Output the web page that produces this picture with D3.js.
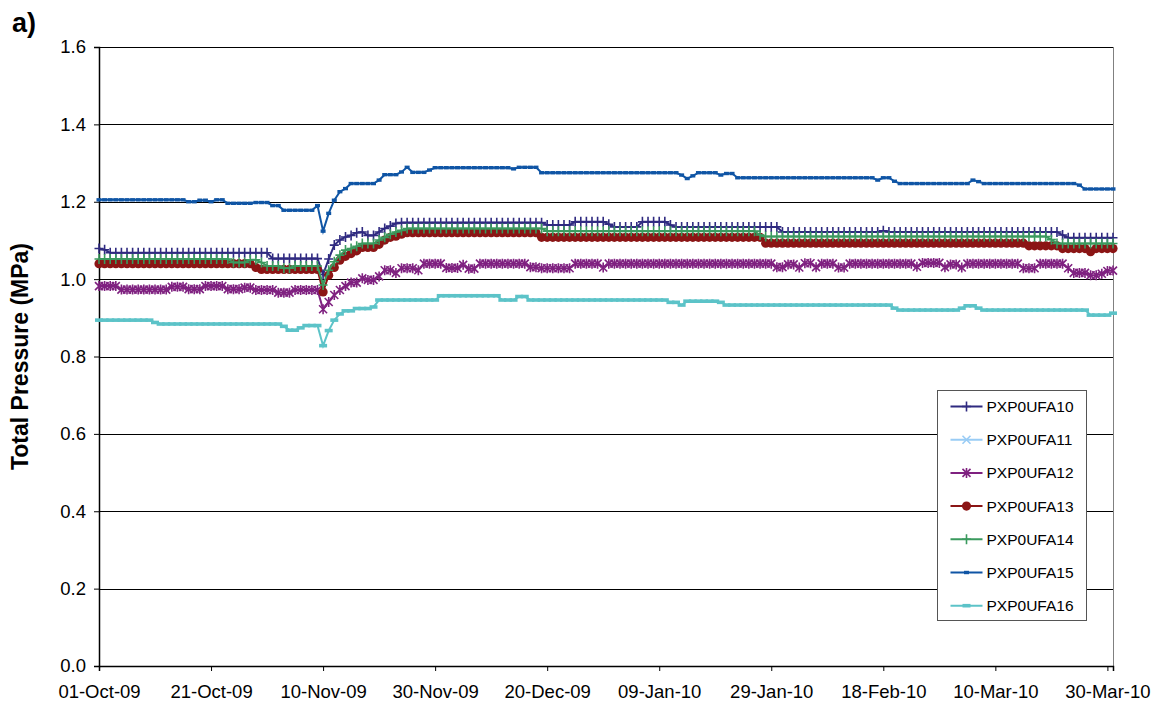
<!DOCTYPE html>
<html>
<head>
<meta charset="utf-8">
<script src="https://cdn.jsdelivr.net/npm/d3@7"></script>
<style>
  body { margin: 0; background: #fff; overflow: hidden; }
  svg { display: block; }
  text { font-family: Arial, "Liberation Sans", sans-serif; fill: #000; }
</style>
</head>
<body>
<svg width="1157" height="709"></svg>
<script>

// first reading day, one reading per day after that
const firstDay = '01-Oct-09';
const lastDay = '31-Mar-10';
const dateTicks = ['01-Oct-09', '21-Oct-09', '10-Nov-09', '30-Nov-09', '20-Dec-09',
                   '09-Jan-10', '29-Jan-10', '18-Feb-10', '10-Mar-10', '30-Mar-10'];
const pressureTicks = [0, 0.2, 0.4, 0.6, 0.8, 1.0, 1.2, 1.4, 1.6];
const seriesNames = ['PXP0UFA10', 'PXP0UFA11', 'PXP0UFA12', 'PXP0UFA13',
                     'PXP0UFA14', 'PXP0UFA15', 'PXP0UFA16'];

// daily total pressure, MPa
const ufa10 = [
  1.079,1.076,1.068,1.068,1.068,1.068,1.068,1.068,1.068,1.068,
  1.068,1.068,1.068,1.068,1.068,1.068,1.068,1.068,1.068,1.068,
  1.068,1.068,1.068,1.068,1.068,1.068,1.068,1.068,1.068,1.068,
  1.068,1.053,1.053,1.053,1.053,1.053,1.053,1.053,1.053,1.053,
  1.012,1.052,1.088,1.101,1.109,1.113,1.120,1.122,1.113,1.113,
  1.122,1.131,1.137,1.144,1.146,1.146,1.146,1.146,1.146,1.146,
  1.146,1.146,1.146,1.146,1.146,1.146,1.146,1.146,1.146,1.146,
  1.146,1.146,1.146,1.146,1.146,1.146,1.146,1.146,1.146,1.146,
  1.140,1.140,1.140,1.140,1.140,1.148,1.148,1.148,1.148,1.148,
  1.148,1.142,1.135,1.135,1.135,1.135,1.135,1.148,1.148,1.148,
  1.148,1.148,1.140,1.135,1.135,1.135,1.135,1.135,1.135,1.135,
  1.135,1.135,1.135,1.135,1.135,1.135,1.135,1.135,1.135,1.135,
  1.135,1.135,1.122,1.122,1.122,1.122,1.122,1.122,1.122,1.122,
  1.122,1.122,1.122,1.122,1.122,1.122,1.122,1.122,1.122,1.122,
  1.125,1.122,1.122,1.122,1.122,1.122,1.122,1.122,1.122,1.122,
  1.122,1.122,1.122,1.122,1.122,1.122,1.122,1.122,1.122,1.122,
  1.122,1.122,1.122,1.122,1.122,1.122,1.122,1.122,1.122,1.122,
  1.122,1.122,1.114,1.107,1.107,1.107,1.107,1.107,1.107,1.107,
  1.107,1.107
];
// no readings logged for UFA11 in this period
const ufa11 = [];
const ufa12 = [
  0.982,0.982,0.982,0.982,0.973,0.973,0.973,0.973,0.973,0.973,
  0.973,0.973,0.973,0.980,0.980,0.980,0.974,0.974,0.974,0.982,
  0.982,0.982,0.982,0.974,0.974,0.974,0.978,0.978,0.972,0.972,
  0.972,0.972,0.965,0.965,0.965,0.972,0.972,0.972,0.972,0.972,
  0.922,0.941,0.959,0.972,0.982,0.991,0.991,1.002,0.998,0.998,
  1.007,1.023,1.023,1.016,1.028,1.028,1.028,1.023,1.040,1.040,
  1.040,1.040,1.029,1.029,1.029,1.037,1.027,1.027,1.040,1.040,
  1.040,1.040,1.040,1.040,1.040,1.040,1.040,1.031,1.031,1.028,
  1.028,1.028,1.028,1.028,1.028,1.040,1.040,1.040,1.040,1.040,
  1.030,1.040,1.040,1.040,1.040,1.040,1.040,1.040,1.040,1.040,
  1.040,1.040,1.040,1.040,1.040,1.040,1.040,1.040,1.040,1.040,
  1.040,1.040,1.040,1.040,1.040,1.040,1.040,1.040,1.040,1.040,
  1.040,1.031,1.031,1.038,1.038,1.030,1.041,1.041,1.031,1.040,
  1.040,1.040,1.030,1.030,1.040,1.040,1.040,1.040,1.040,1.040,
  1.040,1.040,1.040,1.040,1.040,1.040,1.032,1.042,1.042,1.042,
  1.042,1.031,1.038,1.038,1.030,1.040,1.040,1.040,1.040,1.040,
  1.040,1.040,1.040,1.040,1.040,1.028,1.028,1.028,1.040,1.040,
  1.040,1.040,1.040,1.028,1.016,1.016,1.016,1.010,1.010,1.014,
  1.021,1.022
];
const ufa13 = [
  1.040,1.040,1.040,1.040,1.040,1.040,1.040,1.040,1.040,1.040,
  1.040,1.040,1.040,1.040,1.040,1.040,1.040,1.040,1.040,1.040,
  1.040,1.040,1.040,1.040,1.040,1.040,1.040,1.040,1.030,1.025,
  1.025,1.025,1.025,1.025,1.025,1.025,1.025,1.025,1.025,1.025,
  0.967,1.010,1.030,1.049,1.059,1.066,1.073,1.082,1.082,1.082,
  1.090,1.101,1.108,1.111,1.116,1.120,1.120,1.120,1.120,1.120,
  1.120,1.120,1.120,1.120,1.120,1.120,1.120,1.120,1.120,1.120,
  1.120,1.120,1.120,1.120,1.120,1.120,1.120,1.120,1.120,1.108,
  1.108,1.108,1.108,1.108,1.108,1.108,1.108,1.108,1.108,1.108,
  1.108,1.108,1.108,1.108,1.108,1.108,1.108,1.108,1.108,1.108,
  1.108,1.108,1.108,1.108,1.108,1.108,1.108,1.108,1.108,1.108,
  1.108,1.108,1.108,1.108,1.108,1.108,1.108,1.108,1.108,1.093,
  1.093,1.093,1.093,1.093,1.093,1.093,1.093,1.093,1.093,1.093,
  1.093,1.093,1.093,1.093,1.093,1.093,1.093,1.093,1.093,1.093,
  1.093,1.093,1.093,1.093,1.093,1.093,1.093,1.093,1.093,1.093,
  1.093,1.093,1.093,1.093,1.093,1.093,1.093,1.093,1.093,1.093,
  1.093,1.093,1.093,1.093,1.093,1.093,1.086,1.086,1.086,1.086,
  1.086,1.086,1.079,1.079,1.079,1.079,1.079,1.071,1.079,1.079,
  1.079,1.079
];
const ufa14 = [
  1.052,1.052,1.052,1.052,1.052,1.052,1.052,1.052,1.052,1.052,
  1.052,1.052,1.052,1.052,1.052,1.052,1.052,1.052,1.052,1.052,
  1.052,1.052,1.052,1.052,1.043,1.043,1.043,1.050,1.050,1.043,
  1.034,1.034,1.034,1.028,1.028,1.034,1.034,1.034,1.034,1.034,
  0.985,1.023,1.045,1.062,1.075,1.079,1.085,1.092,1.092,1.092,
  1.101,1.108,1.116,1.122,1.126,1.131,1.131,1.131,1.131,1.131,
  1.131,1.131,1.131,1.131,1.131,1.131,1.131,1.131,1.131,1.131,
  1.131,1.131,1.131,1.131,1.131,1.131,1.131,1.131,1.131,1.131,
  1.124,1.124,1.124,1.124,1.124,1.124,1.124,1.124,1.124,1.124,
  1.124,1.124,1.124,1.124,1.124,1.124,1.124,1.124,1.124,1.124,
  1.124,1.124,1.124,1.124,1.124,1.124,1.124,1.124,1.124,1.124,
  1.124,1.124,1.124,1.124,1.124,1.124,1.124,1.124,1.114,1.110,
  1.110,1.110,1.110,1.110,1.110,1.110,1.110,1.110,1.110,1.110,
  1.110,1.110,1.110,1.110,1.110,1.110,1.110,1.110,1.110,1.110,
  1.110,1.110,1.110,1.110,1.110,1.110,1.110,1.110,1.110,1.110,
  1.110,1.110,1.110,1.110,1.110,1.110,1.110,1.110,1.110,1.110,
  1.110,1.110,1.110,1.110,1.110,1.110,1.110,1.110,1.110,1.110,
  1.102,1.092,1.092,1.092,1.092,1.092,1.092,1.092,1.092,1.092,
  1.092,1.092
];
const ufa15 = [
  1.205,1.205,1.205,1.205,1.205,1.205,1.205,1.205,1.205,1.205,
  1.205,1.205,1.205,1.205,1.205,1.205,1.200,1.200,1.204,1.204,
  1.200,1.205,1.205,1.196,1.196,1.196,1.196,1.196,1.198,1.198,
  1.198,1.190,1.190,1.178,1.178,1.178,1.178,1.178,1.178,1.190,
  1.124,1.170,1.204,1.226,1.234,1.247,1.247,1.247,1.247,1.247,
  1.256,1.270,1.270,1.270,1.277,1.289,1.276,1.276,1.276,1.282,
  1.288,1.288,1.288,1.288,1.288,1.288,1.288,1.288,1.288,1.288,
  1.288,1.288,1.288,1.288,1.285,1.289,1.289,1.289,1.289,1.275,
  1.275,1.275,1.275,1.275,1.275,1.275,1.275,1.275,1.275,1.275,
  1.275,1.275,1.275,1.275,1.275,1.275,1.275,1.275,1.275,1.275,
  1.275,1.275,1.275,1.275,1.269,1.260,1.267,1.275,1.275,1.275,
  1.275,1.269,1.273,1.273,1.262,1.262,1.262,1.262,1.262,1.262,
  1.262,1.262,1.262,1.262,1.262,1.262,1.262,1.262,1.262,1.262,
  1.262,1.262,1.262,1.262,1.262,1.262,1.262,1.262,1.262,1.256,
  1.262,1.262,1.253,1.247,1.247,1.247,1.247,1.247,1.247,1.247,
  1.247,1.247,1.247,1.247,1.247,1.247,1.256,1.252,1.247,1.247,
  1.247,1.247,1.247,1.247,1.247,1.247,1.247,1.247,1.247,1.247,
  1.247,1.247,1.247,1.247,1.247,1.243,1.233,1.233,1.233,1.233,
  1.233,1.233
];
const ufa16 = [
  0.894,0.894,0.894,0.894,0.894,0.894,0.894,0.894,0.894,0.894,
  0.888,0.884,0.884,0.884,0.884,0.884,0.884,0.884,0.884,0.884,
  0.884,0.884,0.884,0.884,0.884,0.884,0.884,0.884,0.884,0.884,
  0.884,0.884,0.884,0.878,0.868,0.868,0.874,0.880,0.880,0.880,
  0.828,0.867,0.894,0.910,0.918,0.918,0.924,0.924,0.924,0.928,
  0.946,0.946,0.946,0.946,0.946,0.946,0.946,0.946,0.946,0.946,
  0.946,0.957,0.957,0.957,0.957,0.957,0.957,0.957,0.957,0.957,
  0.957,0.957,0.946,0.946,0.946,0.955,0.955,0.946,0.946,0.946,
  0.946,0.946,0.946,0.946,0.946,0.946,0.946,0.946,0.946,0.946,
  0.946,0.946,0.946,0.946,0.946,0.946,0.946,0.946,0.946,0.946,
  0.946,0.946,0.940,0.940,0.933,0.943,0.943,0.943,0.943,0.943,
  0.943,0.940,0.933,0.933,0.933,0.933,0.933,0.933,0.933,0.933,
  0.933,0.933,0.933,0.933,0.933,0.933,0.933,0.933,0.933,0.933,
  0.933,0.933,0.933,0.933,0.933,0.933,0.933,0.933,0.933,0.933,
  0.933,0.933,0.925,0.920,0.920,0.920,0.920,0.920,0.920,0.920,
  0.920,0.920,0.920,0.920,0.925,0.931,0.931,0.925,0.920,0.920,
  0.920,0.920,0.920,0.920,0.920,0.920,0.920,0.920,0.920,0.920,
  0.920,0.920,0.920,0.920,0.920,0.920,0.920,0.907,0.907,0.907,
  0.907,0.912
];

const svg = d3.select('svg');
const width = +svg.attr('width');
const height = +svg.attr('height');
const margin = { top: 47, right: 44, bottom: 43, left: 99 };
const innerWidth = width - margin.left - margin.right;
const innerHeight = height - margin.top - margin.bottom;

const parseDay = d3.utcParse('%d-%b-%y');
const start = parseDay(firstDay);

const xScale = d3.scaleUtc()
  .domain([start, parseDay(lastDay)])
  .range([0, innerWidth]);

const yScale = d3.scaleLinear()
  .domain([0, 1.6])
  .range([innerHeight, 0]);

// marker shapes, drawn as paths around (0,0)
const plusPath = 'M-4.5,0H4.5M0,-5V5';
const timesPath = 'M-4,-4L4,4M-4,4L4,-4';
const starPath = 'M-4,-4L4,4M-4,4L4,-4M0,-5V5';
const circlePath = d3.symbol(d3.symbolCircle, 66)();

const styles = [
  { color: '#2f2a80', marker: plusPath, fill: false, sw: 2 },
  { color: '#99ccf5', marker: timesPath, fill: false, sw: 2 },
  { color: '#7f2180', marker: starPath, fill: false, sw: 2 },
  { color: '#8b1515', marker: circlePath, fill: true, sw: 2 },
  { color: '#3a9a5e', marker: plusPath, fill: false, sw: 2 },
  { color: '#0f55a5', marker: 'M-2.5,-1.7H2.5V1.7H-2.5Z', fill: true, sw: 2 },
  { color: '#5cc3c8', marker: 'M-4,-1.8H4V1.8H-4Z', fill: true, sw: 2 }
];

const readings = [ufa10, ufa11, ufa12, ufa13, ufa14, ufa15, ufa16];
const series = seriesNames.map((name, i) => ({
  name,
  style: styles[i],
  values: readings[i].map((v, k) => ({ date: d3.utcDay.offset(start, k), value: v }))
}));

const g = svg.append('g')
  .attr('transform', `translate(${margin.left}, ${margin.top})`);

// horizontal gridlines
g.append('g')
  .selectAll('line')
  .data(pressureTicks.filter(t => t > 0))
  .enter().append('line')
    .attr('x1', 0)
    .attr('x2', innerWidth)
    .attr('y1', d => Math.round(yScale(d)) + 0.5)
    .attr('y2', d => Math.round(yScale(d)) + 0.5)
    .attr('stroke', '#000')
    .attr('stroke-width', 1);

// plot area right edge
g.append('line')
  .attr('x1', innerWidth + 0.5).attr('x2', innerWidth + 0.5)
  .attr('y1', 0).attr('y2', innerHeight)
  .attr('stroke', '#808080');

const yAxis = d3.axisLeft(yScale)
  .tickValues(pressureTicks)
  .tickFormat(d3.format('.1f'))
  .tickSize(5)
  .tickPadding(8);

const xAxis = d3.axisBottom(xScale)
  .tickValues(dateTicks.map(parseDay))
  .tickFormat(d3.utcFormat('%d-%b-%y'))
  .tickSize(5)
  .tickPadding(14);

const yG = g.append('g').call(yAxis);
const xG = g.append('g').attr('transform', `translate(0, ${innerHeight})`).call(xAxis);

[yG, xG].forEach(ax => {
  ax.select('.domain').attr('stroke', '#000').attr('stroke-width', 1.5);
  ax.selectAll('.tick line').attr('stroke', '#000');
  ax.selectAll('.tick text')
    .attr('font-size', 18.5)
    .attr('font-family', 'Arial, "Liberation Sans", sans-serif')
    .attr('fill', '#000');
});

const line = d3.line()
  .x(d => xScale(d.date))
  .y(d => yScale(d.value));

const seriesG = g.selectAll('.series').data(series)
  .enter().append('g')
    .attr('class', 'series');

seriesG.append('path')
  .attr('d', d => line(d.values))
  .attr('fill', 'none')
  .attr('stroke', d => d.style.color)
  .attr('stroke-width', d => d.style.sw);

seriesG.each(function(s) {
  d3.select(this).selectAll('.mark').data(s.values)
    .enter().append('path')
      .attr('class', 'mark')
      .attr('transform', d => `translate(${xScale(d.date)}, ${yScale(d.value)})`)
      .attr('d', s.style.marker)
      .attr('fill', s.style.fill ? s.style.color : 'none')
      .attr('stroke', s.style.fill ? 'none' : s.style.color)
      .attr('stroke-width', 1.6);
});

// legend
const legend = svg.append('g').attr('transform', 'translate(937.5, 390.5)');
legend.append('rect')
  .attr('width', 149)
  .attr('height', 230)
  .attr('fill', '#fff')
  .attr('stroke', '#555');

const item = legend.selectAll('.item').data(series)
  .enter().append('g')
    .attr('class', 'item')
    .attr('transform', (d, i) => `translate(0, ${16 + i * 33.2})`);

item.append('line')
  .attr('x1', 13).attr('x2', 45)
  .attr('stroke', d => d.style.color)
  .attr('stroke-width', d => d.style.sw);

item.append('path')
  .attr('transform', 'translate(29, 0)')
  .attr('d', d => d.style.marker)
  .attr('fill', d => d.style.fill ? d.style.color : 'none')
  .attr('stroke', d => d.style.fill ? 'none' : d.style.color)
  .attr('stroke-width', 1.6);

item.append('text')
  .attr('x', 49)
  .attr('y', 5.5)
  .attr('font-size', 15.5)
  .text(d => d.name);

// axis title and panel label
svg.append('text')
  .attr('transform', `translate(28, ${margin.top + innerHeight / 2}) rotate(-90)`)
  .attr('text-anchor', 'middle')
  .attr('font-size', 23)
  .attr('font-weight', 'bold')
  .text('Total Pressure (MPa)');

svg.append('text')
  .attr('x', 12)
  .attr('y', 32)
  .attr('font-size', 27)
  .attr('font-weight', 'bold')
  .text('a)');

</script>
</body>
</html>
